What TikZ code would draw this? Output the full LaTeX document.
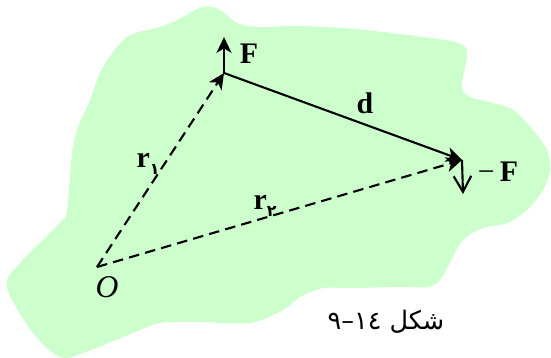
\documentclass[tikz,border=0pt]{standalone}
\usepackage{fontspec}
\setmainfont{Liberation Serif}
\newfontfamily\arabicfont[Script=Arabic]{DejaVu Sans}
\TeXXeTstate=1
\usepackage{xcolor}
\usetikzlibrary{arrows.meta}
\definecolor{blobgreen}{RGB}{204,255,204}
\newcommand{\persub}[1]{\raisebox{-0.5ex}{\arabicfont\fontsize{9}{9}\selectfont #1}}

\begin{document}
\begin{tikzpicture}[x=0.02cm,y=-0.02cm,>={Stealth[length=9pt,width=8.5pt,inset=2.5pt]},
  vec/.style={line width=1.2pt,->},
  dashvec/.style={vec,dash pattern=on 6pt off 3.5pt},
  lbl/.style={font=\fontsize{17}{20}\selectfont\bfseries}]
\useasboundingbox (0,0) rectangle (551,358);
% the body
\fill[blobgreen] plot[smooth cycle,tension=0.55] coordinates {
  (203,7) (220,10) (237,23) (260,27) (293,26) (343,28) (400,34) (445,40)
  (463,45) (467,55) (462,87) (470,97) (490,102) (513,110) (533,130) (547,150)
  (550,170) (543,190) (527,210) (507,223) (483,228) (463,240) (450,263) (440,280)
  (428,287) (400,287) (351,288) (323,288) (300,297) (283,310) (250,323) (200,322)
  (160,323) (133,333) (83,353) (60,357) (33,333) (7,287) (20,263) (50,233)
  (62,220) (67,211) (74,141) (90,100) (103,67) (127,37) (160,27) (177,20)};
% points
\coordinate (O) at (97,267);
\coordinate (A) at (224,73);
\coordinate (B) at (462,160);
\coordinate (Fend) at (224,37);
\coordinate (mFend) at (463,194);
% vectors
\draw[dashvec] (O) -- (A);
\draw[dashvec] (O) -- (B);
\draw[vec] (A) -- (B);
\draw[vec] (A) -- (Fend);
\draw[line width=1.2pt,-{Straight Barb[length=9pt,width=10pt]}] (B) -- (mFend);
% labels
\node[lbl] (Flbl) at (249,54) {F};
\node[lbl] (dlbl) at (365,103) {d};
\node[font=\fontsize{17}{20}\selectfont] (mFlbl) at (498,172) {−\,\textbf{F}};
\node[lbl] (rone) at (148,164) {r\persub{١}};
\node[lbl] (rtwo) at (265,206) {r\persub{٢}};
\node[font=\fontsize{18}{20}\selectfont\itshape] (Olbl) at (107,287) {O};
\node[font=\arabicfont\fontsize{14.5}{17}\selectfont] (cap) at (386,322) {\beginR شکل ١٤–٩\endR};
\end{tikzpicture}
\end{document}
